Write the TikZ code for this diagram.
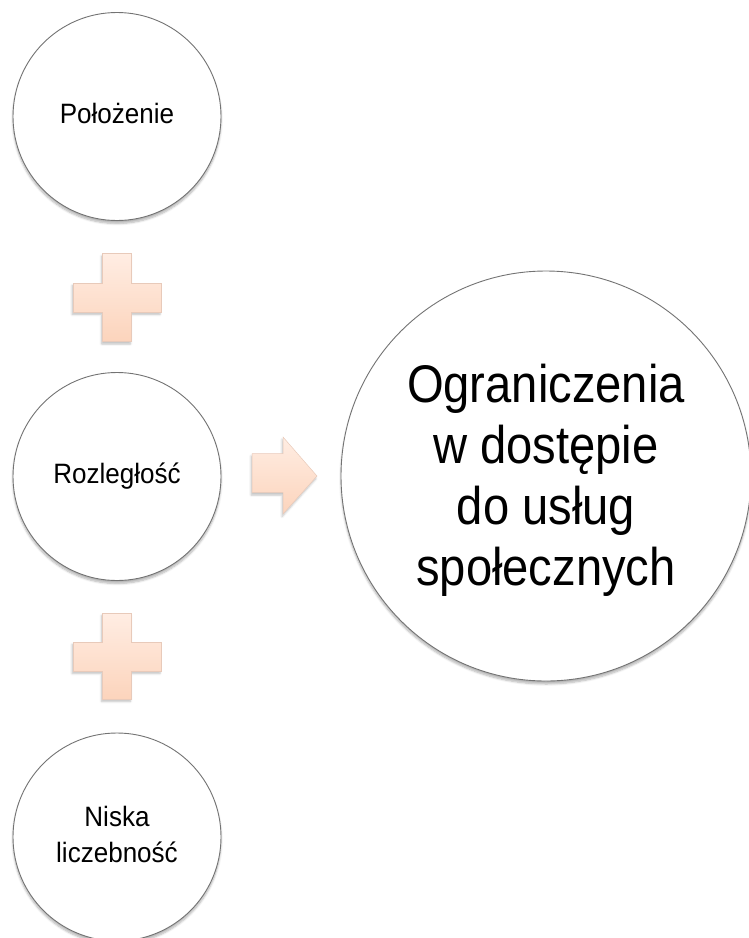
\documentclass[tikz,border=0pt]{standalone}
\usepackage{fontspec}
\setmainfont{Liberation Sans}
\usetikzlibrary{shadows.blur}
\definecolor{ringgray}{RGB}{115,115,115}
\definecolor{peachtop}{RGB}{255,237,227}
\definecolor{peachbot}{RGB}{252,212,188}
\definecolor{peachline}{RGB}{232,202,186}
\tikzset{
  bubble/.style={circle, draw=ringgray, line width=0.9pt, fill=white, inner sep=0pt,
    blur shadow={shadow xshift=0pt, shadow yshift=-3pt, shadow opacity=30, shadow blur steps=6}},
  peach/.style={draw=peachline, line width=0.5pt, top color=peachtop, bottom color=peachbot,
    blur shadow={shadow xshift=-1pt, shadow yshift=-2.5pt, shadow opacity=25, shadow blur steps=5}}
}
\newcommand{\sqz}[2]{\scalebox{#1}[1]{\begin{tabular}{@{}c@{}}#2\end{tabular}}}
\begin{document}
\begin{tikzpicture}[x=1pt,y=-1pt]
\useasboundingbox (0,0) rectangle (749,938);
% circles
\node[bubble, minimum size=208pt] (pol) at (117,116.5) {\fontsize{28}{36}\selectfont\sqz{0.93}{Położenie}};
\node[bubble, minimum size=208pt] (roz) at (117,476.5) {\fontsize{28}{36}\selectfont\sqz{0.93}{Rozległość}};
\node[bubble, minimum size=208pt] (nis) at (117,837) {\fontsize{28}{36}\selectfont\sqz{0.93}{Niska\\liczebność}};
\node[bubble, minimum size=410pt] (ogr) at (546,476) {\fontsize{53}{61}\selectfont\sqz{0.89}{\rule{0pt}{55pt}Ograniczenia\\w dostępie\\do usług\\społecznych}};
% plus signs
\path[peach] (102.5,253.5) -- (131.5,253.5) -- (131.5,283) -- (161,283) -- (161,312) -- (131.5,312)
  -- (131.5,341.5) -- (102.5,341.5) -- (102.5,312) -- (73,312) -- (73,283) -- (102.5,283) -- cycle;
\path[peach] (102.5,613) -- (131.5,613) -- (131.5,642) -- (161,642) -- (161,671) -- (131.5,671)
  -- (131.5,699) -- (102.5,699) -- (102.5,671) -- (73,671) -- (73,642) -- (102.5,642) -- cycle;
% arrow
\path[peach] (252,453.5) -- (283,453.5) -- (283,437) -- (317,476) -- (283,514) -- (283,492.5)
  -- (252,492.5) -- cycle;
\end{tikzpicture}
\end{document}
